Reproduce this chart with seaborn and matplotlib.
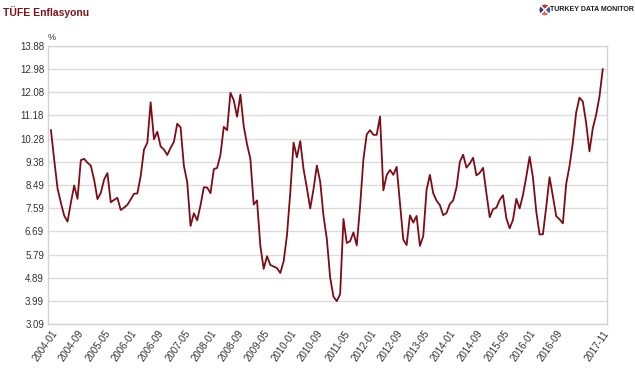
import matplotlib.pyplot as plt
import numpy as np
import pandas as pd
import seaborn as sns

# Monthly CPI (TUFE) annual inflation, %
values_2004 = [10.62, 9.45, 8.35, 7.80, 7.30, 7.07, 7.80, 8.47, 7.95, 9.45, 9.50, 9.35]
values_2005 = [9.24, 8.69, 7.94, 8.18, 8.70, 8.95, 7.82, 7.91, 7.99, 7.52, 7.61, 7.72]
values_2006 = [7.93, 8.15, 8.16, 8.83, 9.86, 10.12, 11.69, 10.26, 10.55, 9.98, 9.86, 9.65]
values_2007 = [9.93, 10.16, 10.86, 10.72, 9.23, 8.60, 6.90, 7.39, 7.12, 7.70, 8.40, 8.39]
values_2008 = [8.17, 9.10, 9.15, 9.66, 10.74, 10.61, 12.06, 11.77, 11.13, 11.99, 10.76, 10.06]
values_2009 = [9.50, 7.73, 7.89, 6.13, 5.24, 5.73, 5.39, 5.33, 5.27, 5.08, 5.53, 6.53]
values_2010 = [8.19, 10.13, 9.56, 10.19, 9.10, 8.37, 7.58, 8.33, 9.24, 8.62, 7.29, 6.40]
values_2011 = [4.90, 4.16, 3.99, 4.26, 7.17, 6.24, 6.31, 6.65, 6.15, 7.66, 9.48, 10.45]
values_2012 = [10.61, 10.43, 10.43, 11.14, 8.28, 8.87, 9.07, 8.88, 9.19, 7.80, 6.37, 6.16]
values_2013 = [7.31, 7.03, 7.29, 6.13, 6.51, 8.30, 8.88, 8.17, 7.88, 7.71, 7.32, 7.40]
values_2014 = [7.75, 7.89, 8.39, 9.38, 9.66, 9.16, 9.32, 9.54, 8.86, 8.96, 9.15, 8.17]
values_2015 = [7.24, 7.55, 7.61, 7.91, 8.09, 7.20, 6.81, 7.14, 7.95, 7.58, 8.10, 8.81]
values_2016 = [9.58, 8.78, 7.46, 6.57, 6.58, 7.64, 8.79, 8.05, 7.28, 7.16, 7.00, 8.53]
values_2017 = [9.22, 10.13, 11.29, 11.87, 11.72, 10.90, 9.79, 10.68, 11.20, 11.90, 12.98]

y_ticks = [3.09, 3.99, 4.89, 5.79, 6.69, 7.59, 8.49, 9.38, 10.28, 11.18, 12.08, 12.98, 13.88]

values = (values_2004 + values_2005 + values_2006 + values_2007 + values_2008
          + values_2009 + values_2010 + values_2011 + values_2012 + values_2013
          + values_2014 + values_2015 + values_2016 + values_2017)
months = pd.period_range("2004-01", periods=len(values), freq="M").strftime("%Y-%m")
df = pd.DataFrame({"idx": np.arange(len(values)), "month": months, "value": values})

sns.set_style("white")
plt.rcParams["font.family"] = ["Liberation Sans", "DejaVu Sans"]

fig = plt.figure(figsize=(6.35, 3.69), dpi=100)
ax = fig.add_axes([0.076, 0.121, 0.8795, 0.755])

sns.lineplot(data=df, x="idx", y="value", color="#7d0c16", linewidth=1.3, ax=ax)

ax.set_ylim(y_ticks[0], y_ticks[-1])
ax.set_yticks(y_ticks)
ax.set_yticklabels([f"{v:.2f}" for v in y_ticks], fontsize=7, color="#333333")
ax.set_xlim(-0.8, len(values) + 0.2)
tick_idx = list(range(0, 153, 8)) + [len(values) - 1]
ax.set_xticks(tick_idx)
ax.set_xticklabels(df["month"].iloc[tick_idx], rotation=55, ha="right",
                   rotation_mode="anchor", fontsize=7, color="#333333")
ax.tick_params(axis="both", length=0, pad=3)
ax.grid(axis="y", color="#dcdcdc", linewidth=1)
for s in ax.spines.values():
    s.set_color("#d4d4d4")
    s.set_linewidth(1)
ax.set_xlabel("")
ax.set_ylabel("")

fig.text(0.082, 0.885, "%", fontsize=6.5, color="#333333", ha="center", va="bottom")
fig.text(0.005, 0.967, "TÜFE Enflasyonu", fontsize=7.5, fontweight="bold",
         color="#7b1418", ha="left", va="center")

# logo
logo = fig.add_axes([0.846, 0.952, 0.024, 0.042])
logo.pie([1, 1, 1, 1], colors=["#c0392b", "#2c3e7a", "#e8685a", "#3c5aa6"], startangle=45)
logo.set_aspect("equal")
fig.text(0.866, 0.974, "TURKEY DATA MONITOR", fontsize=5, fontweight="bold",
         color="#1a1a1a", ha="left", va="center")

plt.savefig("out.png", dpi=100)
